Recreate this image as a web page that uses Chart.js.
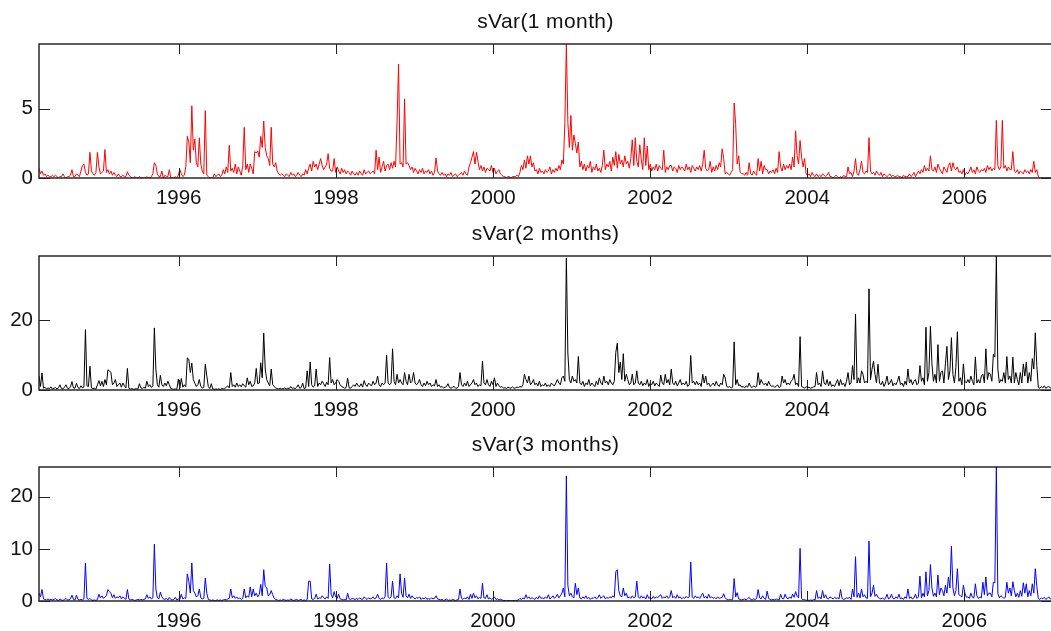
<!DOCTYPE html>
<html>
<head>
<meta charset="utf-8">
<title>sVar</title>
<script src="https://cdn.jsdelivr.net/npm/chart.js@4.4.1/dist/chart.umd.min.js"></script>
<style>
  html, body { margin: 0; padding: 0; background: #fff; overflow: hidden; width: 1051px; height: 631px; }
  canvas { position: absolute; left: 0; }
</style>
</head>
<body>
<canvas id="c1" width="1060" height="212" style="top:0px"></canvas>
<canvas id="c2" width="1060" height="211" style="top:212px"></canvas>
<canvas id="c3" width="1060" height="208" style="top:423px"></canvas>
<script>
// Sampling of the series: first sample (decimal year) and spacing (~1 week)
const startYear = 1994.222;
const stepYears = 0.01907;

// Axis ranges and tick labels
const xMin = 1994.222;
const xMax = 2007.116;
const xTicks = [1996, 1998, 2000, 2002, 2004, 2006];
const yTicks1 = [0, 5];
const yTicks2 = [0, 20];
const yTicks3 = [0, 10, 20];

// sVar, 1-month horizon
const sVar1 = [
  0.7, 0.3, 0.5, 0.2, 0.3, 0.1, 0.2, 0.1, 0.1, 0.2,
  0.1, 0.2, 0.1, 0.0, 0.1, 0.1, 0.3, 0.1, 0.0, 0.1,
  0.1, 0.2, 0.6, 0.1, 0.1, 0.3, 0.2, 0.1, 0.5, 0.9,
  1.0, 0.4, 0.2, 0.3, 1.85, 0.5, 0.3, 0.2, 0.4, 1.85,
  0.8, 0.3, 0.4, 0.5, 2.05, 0.4, 0.6, 0.3, 0.5, 0.2,
  0.4, 0.2, 0.1, 0.3, 0.1, 0.1, 0.2, 0.1, 0.1, 0.45,
  0.2, 0.1, 0.0, 0.0, 0.1, 0.0, 0.0, 0.1, 0.0, 0.0,
  0.0, 0.0, 0.1, 0.0, 0.0, 0.1, 0.3, 1.1, 0.9, 0.3,
  0.1, 0.1, 0.5, 0.0, 0.2, 0.1, 0.1, 0.6, 0.0, 0.0,
  0.0, 0.1, 0.0, 0.2, 0.6, 0.3, 0.1, 0.2, 0.8, 3.0,
  2.6, 1.1, 5.2, 2.0, 2.8, 1.1, 0.8, 2.9, 1.0, 0.5,
  0.3, 4.85, 0.2, 0.1, 0.0, 0.0, 0.0, 0.3, 0.1, 0.2,
  0.3, 0.1, 0.2, 0.6, 0.3, 0.8, 0.4, 2.35, 0.5, 0.7,
  0.4, 1.0, 0.3, 0.8, 0.5, 0.2, 0.9, 3.65, 0.6, 1.0,
  0.4, 1.0, 0.7, 0.3, 1.9, 1.8, 1.95, 1.5, 3.0, 2.2,
  4.1, 2.2, 1.6, 1.4, 0.9, 3.65, 1.0, 0.8, 1.1, 0.5,
  0.3, 0.2, 0.3, 0.2, 0.1, 0.3, 0.2, 0.1, 0.4, 0.2,
  0.3, 0.1, 0.2, 0.4, 0.2, 0.1, 0.3, 0.2, 0.6, 0.3,
  0.7, 1.0, 0.5, 1.2, 0.8, 1.0, 0.6, 1.0, 1.4, 0.9,
  0.6, 0.8, 1.0, 1.75, 0.7, 0.5, 0.5, 1.4, 0.4, 0.8,
  0.5, 0.3, 0.7, 0.4, 0.6, 0.3, 0.5, 0.4, 0.2, 0.5,
  0.3, 0.2, 0.4, 0.2, 0.5, 0.3, 0.2, 0.6, 0.3, 0.4,
  0.5, 0.3, 0.4, 0.5, 0.3, 2.0, 0.6, 1.5, 0.4, 0.8,
  1.2, 0.5, 0.9, 1.0, 0.6, 1.1, 0.7, 1.2, 0.8, 4.1,
  8.2, 1.0, 1.1, 0.8, 5.7, 1.0, 1.1, 0.9, 0.6, 0.8,
  0.4, 0.7, 0.5, 0.3, 0.6, 0.4, 0.7, 0.3, 0.5, 0.4,
  0.6, 0.3, 0.5, 0.2, 0.4, 1.45, 0.5, 0.3, 0.2, 0.4,
  0.2, 0.3, 0.1, 0.3, 0.2, 0.4, 0.1, 0.2, 0.3, 0.1,
  0.2, 0.3, 0.4, 0.2, 0.5, 0.3, 0.2, 0.8, 1.1, 1.5,
  1.9, 1.0, 1.85, 1.2, 0.6, 0.9, 0.5, 0.8, 0.4, 0.7,
  0.6, 0.5, 0.9, 0.4, 0.7, 0.3, 0.5, 0.6, 0.3, 0.2,
  0.1, 0.1, 0.0, 0.1, 0.1, 0.0, 0.1, 0.1, 0.1, 0.2,
  0.1, 0.4, 0.9, 0.6, 1.3, 0.7, 1.6, 1.0, 1.6, 0.8,
  1.1, 0.5, 0.6, 0.3, 0.7, 0.4, 0.5, 0.3, 0.6, 0.4,
  0.5, 0.8, 0.3, 0.6, 0.4, 0.7, 0.5, 0.9, 0.6, 1.3,
  1.0, 4.0, 9.65, 4.0, 2.2, 4.5, 2.0, 3.1, 2.5, 1.8,
  2.6, 0.8, 1.2, 0.6, 1.0, 0.5, 0.9, 0.7, 1.2, 0.4,
  0.8, 0.6, 1.0, 0.5, 0.7, 0.4, 0.9, 2.0, 0.6, 1.0,
  0.8, 1.2, 0.5, 1.5, 0.9, 1.9, 0.7, 1.7, 1.0, 1.3,
  0.8, 1.6, 1.0, 1.2, 0.7, 1.4, 2.75, 0.9, 2.9, 1.2,
  0.8, 2.4, 1.3, 0.6, 2.9, 0.9, 2.3, 0.6, 1.0, 0.5,
  0.8, 0.6, 1.0, 0.5, 0.9, 0.7, 0.6, 2.0, 0.4, 0.8,
  0.6, 0.9, 0.9, 0.5, 0.8, 0.7, 0.4, 0.9, 0.6, 0.8,
  0.7, 0.5, 1.0, 0.6, 0.8, 0.4, 0.9, 0.7, 0.5, 0.8,
  0.6, 0.9, 0.5, 1.0, 2.0, 0.7, 0.5, 0.6, 1.2, 0.4,
  0.8, 0.5, 0.9, 0.6, 1.1, 0.8, 2.1, 1.4, 0.3, 0.4,
  0.3, 0.2, 0.4, 0.6, 5.4, 3.9, 1.0, 1.6, 0.4, 0.3,
  0.3, 0.2, 0.4, 0.2, 1.1, 0.3, 0.2, 0.5, 0.3, 0.2,
  1.4, 0.5, 1.2, 0.3, 0.9, 0.6, 0.6, 0.3, 0.5, 0.4,
  0.6, 0.3, 0.7, 0.4, 1.9, 0.8, 0.5, 1.0, 0.6, 0.9,
  0.7, 1.0, 0.6, 1.5, 0.8, 3.4, 1.6, 1.0, 2.7, 1.5,
  0.8, 1.4, 0.3, 0.2, 0.3, 0.1, 0.4, 0.2, 0.1, 0.3,
  0.1, 0.2, 0.1, 0.3, 0.2, 0.1, 0.2, 0.4, 0.1, 0.1,
  0.0, 0.1, 0.2, 0.1, 0.0, 0.1, 0.0, 0.2, 0.1, 0.1,
  0.8, 0.3, 0.4, 0.1, 0.5, 1.4, 0.3, 0.2, 0.6, 1.2,
  0.4, 0.3, 0.5, 0.4, 2.9, 0.5, 0.3, 0.4, 0.2, 0.5,
  0.3, 0.2, 0.4, 0.1, 0.3, 0.2, 0.1, 0.2, 0.3, 0.1,
  0.2, 0.1, 0.1, 0.2, 0.1, 0.1, 0.0, 0.2, 0.1, 0.1,
  0.1, 0.3, 0.1, 0.2, 0.4, 0.1, 0.3, 0.5, 0.3, 0.6,
  0.4, 0.9, 0.5, 0.7, 0.5, 1.6, 0.6, 0.5, 0.8, 0.4,
  1.0, 0.7, 0.5, 0.3, 0.8, 0.6, 0.4, 0.9, 1.1, 0.5,
  1.1, 0.7, 0.6, 0.8, 0.4, 0.5, 0.3, 0.6, 0.2, 0.4,
  0.3, 0.5, 0.8, 0.4, 0.6, 0.3, 0.8, 0.5, 0.4, 0.6,
  0.5, 0.7, 0.4, 0.9, 0.6, 0.8, 0.5, 0.7, 0.6, 4.15,
  0.9, 0.6, 0.8, 4.15, 0.7, 0.9, 0.5, 0.8, 0.6, 0.6,
  1.9, 0.5, 0.4, 0.6, 0.3, 0.5, 0.4, 0.3, 0.6, 0.4,
  0.5, 0.3, 0.6, 0.4, 1.2, 0.4, 0.6, 0.1, 0.0, 0.0,
  0.0, 0.0, 0.0, 0.0, 0.0, 0.0, 0.0
];

// sVar, 2-month horizon
const sVar2 = [
  4.0, 1.0, 4.9, 0.5, 0.8, 0.3, 0.6, 0.4, 0.9, 0.3,
  0.5, 0.7, 0.3, 0.6, 1.5, 0.4, 0.3, 0.8, 1.5, 0.5,
  0.4, 0.9, 2.4, 0.6, 0.5, 1.9, 0.7, 0.4, 1.2, 0.6,
  0.9, 17.3, 1.2, 1.0, 6.8, 0.6, 0.4, 0.5, 0.3, 1.5,
  2.7, 1.2, 2.5, 1.0, 3.0, 1.5, 5.8, 5.5, 5.0, 1.5,
  2.0, 3.0, 1.0, 1.5, 2.0, 0.8, 2.0, 1.2, 0.6, 6.2,
  0.5, 0.3, 0.4, 0.2, 0.3, 0.4, 0.2, 1.8, 0.6, 0.4,
  0.8, 0.5, 2.5, 1.0, 1.5, 0.7, 1.2, 17.8, 6.0, 1.5,
  0.8, 4.2, 1.5, 1.0, 2.0, 1.2, 2.5, 1.5, 0.4, 0.3,
  0.2, 0.3, 0.2, 3.1, 0.6, 3.3, 0.8, 1.5, 1.0, 9.2,
  8.8, 5.0, 7.7, 3.0, 2.0, 1.0, 1.5, 3.0, 1.0, 0.6,
  0.8, 7.4, 4.0, 1.0, 0.4, 1.8, 0.3, 0.2, 0.3, 0.2,
  0.3, 0.2, 0.4, 0.3, 0.5, 0.8, 1.2, 0.6, 5.0, 1.0,
  1.5, 0.8, 2.0, 1.0, 1.5, 0.9, 1.8, 1.2, 0.8, 3.5,
  1.5, 2.5, 1.0, 1.2, 2.0, 6.2, 1.8, 2.0, 7.8, 3.5,
  16.3, 6.0, 3.0, 2.0, 1.2, 6.0, 1.5, 1.0, 0.6, 0.4,
  0.3, 0.5, 0.3, 0.4, 0.6, 0.3, 0.5, 0.4, 1.0, 0.5,
  0.6, 0.4, 0.8, 1.5, 0.5, 0.7, 2.0, 0.4, 0.6, 5.5,
  1.0, 8.0, 1.5, 0.8, 1.2, 6.0, 1.0, 2.0, 1.5, 2.5,
  1.8, 1.0, 2.2, 1.5, 9.3, 2.0, 3.0, 1.5, 2.0, 3.0,
  2.5, 1.5, 1.0, 0.8, 0.5, 0.7, 3.4, 0.6, 0.5, 1.0,
  1.5, 1.0, 2.0, 1.2, 1.0, 1.8, 0.8, 2.7, 1.5, 1.0,
  2.0, 1.5, 1.2, 2.5, 1.5, 2.0, 4.0, 1.5, 1.0, 2.0,
  1.5, 2.0, 10.0, 2.0, 1.5, 2.0, 11.8, 2.5, 1.5, 4.5,
  2.0, 3.0, 2.0, 1.5, 5.0, 2.5, 1.5, 4.5, 2.0, 2.5,
  5.0, 2.0, 1.5, 2.0, 3.0, 1.5, 1.0, 2.0, 1.2, 2.5,
  1.5, 2.0, 1.0, 1.5, 1.2, 3.0, 1.0, 1.5, 0.8, 1.0,
  0.6, 0.8, 1.0, 1.8, 0.7, 0.5, 0.8, 1.0, 0.6, 0.5,
  1.0, 5.0, 1.5, 1.0, 2.0, 1.2, 2.5, 1.0, 1.5, 2.0,
  3.0, 1.5, 2.0, 1.0, 1.5, 1.2, 8.3, 2.0, 1.5, 3.0,
  1.5, 1.0, 2.5, 1.5, 3.5, 1.0, 2.0, 1.2, 0.8, 1.0,
  0.5, 0.7, 0.4, 0.8, 0.6, 0.5, 0.9, 0.5, 0.6, 0.8,
  0.7, 1.0, 0.8, 1.5, 4.5, 3.0, 2.0, 4.0, 1.5, 2.0,
  3.0, 1.5, 2.0, 1.2, 2.5, 1.0, 1.5, 1.2, 2.0, 1.0,
  1.5, 1.0, 2.0, 1.5, 1.2, 2.0, 3.0, 2.0, 1.5, 3.5,
  4.0, 2.5, 37.8, 10.6, 3.0, 2.0, 4.0, 2.5, 3.0, 2.0,
  9.6, 2.0, 1.5, 2.5, 1.0, 2.0, 1.5, 3.0, 1.2, 2.0,
  1.5, 1.0, 2.5, 1.5, 3.5, 2.0, 1.5, 4.0, 2.0, 2.5,
  1.5, 3.0, 2.0, 1.5, 2.5, 10.8, 13.4, 5.0, 8.0, 3.0,
  10.4, 2.5, 4.5, 3.0, 1.5, 2.0, 4.5, 1.5, 2.0, 5.5,
  2.0, 1.5, 2.5, 1.2, 2.0, 1.5, 3.0, 1.0, 2.0, 1.5,
  2.5, 1.2, 2.0, 1.5, 1.0, 4.3, 2.0, 1.5, 4.5, 2.0,
  3.0, 1.5, 6.0, 2.0, 1.5, 2.5, 1.2, 2.0, 3.0, 1.5,
  2.0, 1.5, 2.5, 1.0, 1.5, 9.9, 2.0, 2.5, 1.5, 2.5,
  1.5, 2.0, 1.0, 4.5, 2.0, 4.0, 1.5, 2.0, 1.0, 1.5,
  2.0, 1.2, 2.5, 1.5, 1.0, 2.0, 1.5, 4.5, 3.5, 1.0,
  0.8, 1.0, 0.6, 0.8, 13.8, 1.5, 3.0, 1.2, 1.5, 0.8,
  1.0, 0.6, 1.2, 0.8, 2.0, 1.0, 0.7, 1.2, 0.8, 1.0,
  5.0, 1.5, 3.0, 2.0, 1.5, 2.0, 1.2, 2.5, 1.5, 1.0,
  1.2, 0.8, 1.0, 1.5, 0.7, 1.0, 4.0, 2.0, 3.0, 1.5,
  2.0, 1.5, 2.5, 3.0, 4.5, 1.5, 2.0, 1.0, 15.3, 1.0,
  0.8, 0.5, 1.0, 0.6, 0.8, 0.5, 0.7, 0.9, 1.0, 5.0,
  1.5, 2.0, 1.0, 5.5, 2.0, 1.5, 3.0, 1.2, 2.5, 1.0,
  1.5, 1.0, 2.0, 3.0, 1.2, 3.0, 1.5, 2.0, 1.0, 2.5,
  5.0, 1.5, 2.0, 7.0, 3.0, 21.8, 2.0, 3.5, 2.0, 5.5,
  4.5, 2.0, 2.5, 2.0, 29.0, 3.0, 6.0, 8.3, 4.5, 2.0,
  7.4, 2.0, 1.5, 2.5, 1.0, 2.0, 4.0, 1.5, 2.0, 3.0,
  1.2, 2.0, 1.5, 2.5, 4.0, 1.5, 2.0, 1.0, 2.5, 1.5,
  6.0, 2.0, 3.0, 1.5, 2.5, 3.0, 1.5, 2.0, 7.0, 2.5,
  3.5, 1.5, 18.0, 2.5, 5.0, 18.3, 7.5, 2.5, 4.5, 2.0,
  13.0, 2.5, 5.0, 5.5, 2.0, 7.5, 12.5, 3.0, 5.5, 15.0,
  4.5, 2.0, 6.5, 16.7, 2.5, 3.5, 1.5, 7.5, 2.5, 2.0,
  3.0, 2.0, 4.0, 2.5, 1.5, 9.5, 2.0, 3.0, 2.0, 4.0,
  4.5, 2.0, 11.8, 3.0, 5.0, 4.5, 2.5, 10.2, 9.4, 38.4,
  6.0, 2.0, 3.0, 2.5, 5.0, 2.0, 9.6, 3.0, 4.0, 2.0,
  9.4, 2.0, 5.0, 3.0, 1.5, 5.0, 2.0, 7.5, 4.0, 8.0,
  2.0, 5.0, 2.5, 9.0, 6.0, 16.4, 7.0, 0.8, 0.5, 1.0,
  0.6, 1.2, 0.5, 0.8, 1.0, 0.6, 0.9
];

// sVar, 3-month horizon
const sVar3 = [
  1.5, 0.8, 2.2, 0.4, 0.3, 0.2, 0.4, 0.2, 0.3, 0.2,
  0.3, 0.5, 0.2, 0.1, 0.4, 0.2, 0.1, 0.3, 0.5, 0.2,
  0.2, 0.4, 1.1, 0.3, 0.2, 1.1, 0.3, 0.2, 0.3, 0.2,
  0.4, 7.3, 0.5, 0.3, 0.5, 0.2, 0.1, 0.2, 0.1, 0.3,
  1.3, 0.6, 1.0, 0.5, 0.8, 1.0, 2.2, 1.8, 1.5, 0.6,
  1.2, 0.5, 0.8, 0.6, 1.0, 0.4, 0.8, 0.5, 0.3, 2.2,
  0.4, 0.2, 0.3, 0.2, 0.1, 0.2, 0.3, 0.2, 0.3, 0.2,
  0.3, 0.4, 1.2, 0.5, 0.8, 0.4, 0.6, 10.9, 2.3, 0.6,
  0.4, 1.7, 0.8, 0.4, 0.3, 0.5, 0.2, 0.7, 0.3, 0.2,
  0.3, 0.7, 0.2, 0.4, 0.3, 1.3, 0.4, 0.6, 0.5, 5.2,
  3.8, 1.5, 7.3, 2.0, 1.5, 0.8, 1.0, 2.3, 0.6, 0.4,
  0.5, 4.4, 1.5, 0.3, 0.2, 0.1, 0.2, 0.1, 0.1, 0.2,
  0.1, 0.2, 0.1, 0.2, 0.3, 0.2, 0.4, 0.5, 2.3, 0.6,
  1.0, 0.5, 0.8, 0.4, 0.6, 0.3, 0.5, 2.3, 0.6, 1.0,
  0.7, 2.7, 0.8, 2.3, 1.0, 1.5, 0.8, 1.2, 3.2, 1.0,
  6.0, 2.8, 2.5, 1.0, 1.2, 2.0, 1.2, 0.5, 0.3, 0.2,
  0.1, 0.2, 0.1, 0.3, 0.2, 0.1, 0.2, 0.1, 0.4, 0.2,
  0.1, 0.2, 0.3, 0.1, 0.2, 0.3, 0.1, 0.2, 0.1, 0.3,
  3.8, 3.8, 0.4, 0.3, 0.5, 1.3, 0.4, 0.6, 0.5, 1.0,
  0.6, 0.4, 0.8, 0.5, 7.1, 1.3, 0.6, 1.8, 0.8, 0.5,
  1.3, 0.4, 0.3, 0.2, 0.3, 0.2, 1.5, 0.4, 0.3, 0.5,
  0.4, 0.3, 0.5, 0.3, 0.6, 0.4, 0.3, 0.8, 0.5, 0.3,
  0.6, 0.4, 0.5, 0.8, 0.4, 0.6, 1.3, 0.5, 0.3, 0.6,
  0.4, 0.8, 7.3, 0.8, 0.5, 0.8, 3.8, 0.6, 0.5, 1.0,
  0.6, 5.2, 1.5, 0.7, 4.4, 1.0, 0.6, 1.3, 0.5, 1.0,
  0.6, 0.4, 0.7, 0.5, 0.8, 0.3, 0.6, 0.4, 0.7, 0.3,
  0.5, 0.3, 0.6, 0.4, 0.5, 1.0, 0.4, 0.3, 0.2, 0.3,
  0.1, 0.2, 0.4, 0.1, 0.2, 0.1, 0.3, 0.2, 0.1, 0.2,
  0.3, 2.3, 0.5, 0.3, 0.6, 0.4, 0.8, 0.3, 1.3, 0.5,
  1.5, 0.6, 1.0, 0.4, 0.7, 0.5, 3.4, 0.6, 0.5, 1.2,
  0.4, 0.6, 0.3, 0.5, 0.8, 0.3, 0.4, 0.2, 0.3, 0.2,
  0.1, 0.1, 0.0, 0.1, 0.1, 0.0, 0.1, 0.1, 0.0, 0.1,
  0.2, 0.5, 0.3, 0.6, 0.4, 1.2, 0.5, 0.8, 0.4, 0.6,
  0.5, 0.3, 0.7, 0.4, 1.0, 0.5, 0.6, 0.4, 0.8, 0.5,
  1.2, 0.4, 0.6, 1.0, 0.5, 0.8, 1.3, 0.6, 1.0, 1.5,
  2.5, 0.8, 24.0, 3.0, 1.0, 1.5, 0.8, 0.6, 3.4, 1.2,
  2.5, 0.6, 0.4, 0.8, 0.5, 1.0, 0.4, 0.7, 0.3, 0.6,
  0.5, 0.8, 0.4, 0.6, 1.2, 0.5, 0.8, 1.0, 0.4, 0.7,
  0.5, 0.8, 0.6, 1.0, 0.7, 5.6, 6.0, 2.0, 1.0, 0.8,
  2.5, 1.0, 1.5, 0.6, 0.8, 0.5, 1.0, 0.6, 0.8, 3.8,
  0.8, 0.5, 1.0, 0.6, 0.8, 0.4, 1.2, 0.5, 0.7, 0.4,
  0.9, 0.5, 0.8, 0.6, 1.0, 1.2, 0.5, 0.8, 0.6, 1.0,
  0.5, 0.8, 2.0, 0.6, 0.9, 0.5, 1.2, 0.6, 0.8, 0.4,
  0.7, 0.5, 0.9, 0.6, 0.8, 7.5, 0.8, 0.5, 1.0, 0.6,
  0.8, 0.5, 1.0, 1.5, 0.6, 0.9, 0.5, 1.3, 0.6, 0.8,
  0.5, 0.7, 0.4, 0.8, 0.5, 0.6, 0.7, 1.4, 0.6, 0.3,
  0.2, 0.3, 0.2, 0.3, 4.3, 0.8, 1.6, 0.4, 0.3, 0.2,
  0.3, 0.4, 0.2, 0.5, 0.7, 0.3, 0.2, 0.4, 0.3, 0.5,
  2.2, 0.6, 0.4, 1.0, 0.5, 0.3, 1.9, 0.5, 0.3, 0.2,
  0.3, 0.2, 0.4, 0.3, 0.2, 1.3, 0.5, 0.4, 1.3, 0.6,
  0.4, 0.8, 0.5, 1.3, 0.7, 1.8, 0.9, 0.6, 10.1, 0.5,
  0.2, 0.3, 0.1, 0.2, 0.1, 0.2, 0.1, 0.3, 0.2, 2.0,
  0.5, 0.8, 0.4, 2.0, 0.6, 1.2, 0.5, 0.4, 0.8, 0.6,
  0.4, 0.7, 0.5, 0.6, 0.4, 2.2, 0.5, 0.3, 0.4, 0.6,
  0.5, 0.7, 0.3, 2.3, 0.8, 8.5, 0.7, 1.5, 0.6, 2.3,
  0.8, 1.2, 0.6, 0.5, 11.5, 0.8, 1.5, 3.0, 0.9, 1.3,
  0.7, 0.5, 0.4, 0.6, 0.3, 0.5, 1.3, 0.4, 0.6, 1.3,
  0.5, 0.4, 0.8, 0.5, 1.3, 0.4, 0.6, 0.3, 0.8, 0.5,
  2.3, 0.5, 0.8, 0.4, 0.6, 1.3, 0.5, 0.8, 4.8, 0.6,
  1.5, 0.8, 5.6, 1.0, 2.0, 7.0, 2.5, 0.9, 1.5, 0.8,
  5.0, 1.2, 2.5, 2.0, 1.0, 3.0, 1.5, 4.6, 2.5, 10.5,
  2.5, 1.0, 2.0, 6.2, 1.2, 1.0, 0.8, 3.0, 1.5, 0.7,
  0.8, 0.5, 1.5, 0.7, 0.6, 3.3, 1.0, 0.5, 0.8, 0.6,
  3.6, 1.2, 4.6, 1.0, 1.5, 1.5, 0.8, 3.6, 3.5, 25.7,
  1.5, 0.6, 1.0, 0.8, 0.5, 0.7, 3.6, 1.5, 2.5, 1.0,
  3.7, 2.0, 0.8, 1.5, 0.7, 2.0, 0.9, 3.5, 1.5, 3.3,
  0.8, 2.0, 1.0, 3.3, 1.5, 6.2, 2.8, 0.5, 0.3, 0.6,
  0.4, 0.7, 0.3, 0.5, 0.8, 0.4, 0.6
];

const FONT = '"Liberation Sans", Arial, Helvetica, sans-serif';
const sampleYears = sVar1.map((_, i) => startYear + i * stepYears);

// Box with inward ticks on all four sides, plus the panel title
const framePlugin = {
  id: 'frame',
  afterDatasetsDraw(chart, args, opts) {
    const { ctx, chartArea: a, scales: { x, y } } = chart;
    ctx.save();
    ctx.strokeStyle = '#1a1a1a';
    ctx.lineWidth = 1.4;
    ctx.strokeRect(a.left, a.top, a.right - a.left, a.bottom - a.top);
    ctx.lineWidth = 1;
    ctx.strokeStyle = '#222';
    ctx.beginPath();
    x.ticks.forEach(t => {
      const px = Math.round(x.getPixelForValue(t.value)) + 0.5;
      ctx.moveTo(px, a.bottom); ctx.lineTo(px, a.bottom - 10);
      ctx.moveTo(px, a.top); ctx.lineTo(px, a.top + 10);
    });
    y.ticks.forEach(t => {
      const py = Math.round(y.getPixelForValue(t.value)) + 0.5;
      ctx.moveTo(a.left, py); ctx.lineTo(a.left + 11, py);
      ctx.moveTo(a.right, py); ctx.lineTo(a.right - 11, py);
    });
    ctx.stroke();
    ctx.fillStyle = '#111';
    ctx.font = '21px ' + FONT;
    ctx.letterSpacing = '0.4px';
    ctx.textAlign = 'center';
    ctx.textBaseline = 'alphabetic';
    ctx.fillText(opts.text, (a.left + a.right) / 2, a.top - 16);
    ctx.restore();
  }
};

function makePanel(canvasId, title, values, color, yTicks) {
  const canvas = document.getElementById(canvasId);
  const plotTop = 44, plotHeight = 134;
  return new Chart(canvas, {
    type: 'line',
    data: {
      datasets: [{
        data: values.map((v, i) => ({ x: sampleYears[i], y: v })),
        borderColor: color,
        borderWidth: 1,
        pointRadius: 0,
        tension: 0,
        fill: false
      }]
    },
    options: {
      responsive: false,
      animation: false,
      events: [],
      layout: { padding: { top: plotTop, right: 8, left: 0, bottom: 0 } },
      plugins: {
        legend: { display: false },
        tooltip: { enabled: false },
        frame: { text: title }
      },
      scales: {
        x: {
          type: 'linear',
          min: xMin,
          max: xMax,
          grid: { display: false, drawTicks: false },
          border: { display: false },
          afterBuildTicks: s => { s.ticks = xTicks.map(v => ({ value: v })); },
          afterFit: s => { s.height = canvas.height - plotTop - plotHeight; },
          ticks: {
            color: '#111',
            font: { family: FONT, size: 20.5 },
            padding: 8,
            maxRotation: 0,
            autoSkip: false,
            callback: v => String(v)
          }
        },
        y: {
          type: 'linear',
          min: 0,
          max: Math.max(...values),
          grid: { display: false, drawTicks: false },
          border: { display: false },
          afterBuildTicks: s => { s.ticks = yTicks.map(v => ({ value: v })); },
          afterFit: s => { s.width = 39; },
          ticks: {
            color: '#111',
            font: { family: FONT, size: 20.5 },
            padding: 6,
            callback: v => String(v)
          }
        }
      }
    },
    plugins: [framePlugin]
  });
}

makePanel('c1', 'sVar(1 month)', sVar1, '#ff0000', yTicks1);
makePanel('c2', 'sVar(2 months)', sVar2, '#000000', yTicks2);
makePanel('c3', 'sVar(3 months)', sVar3, '#0000ff', yTicks3);
</script>
</body>
</html>
